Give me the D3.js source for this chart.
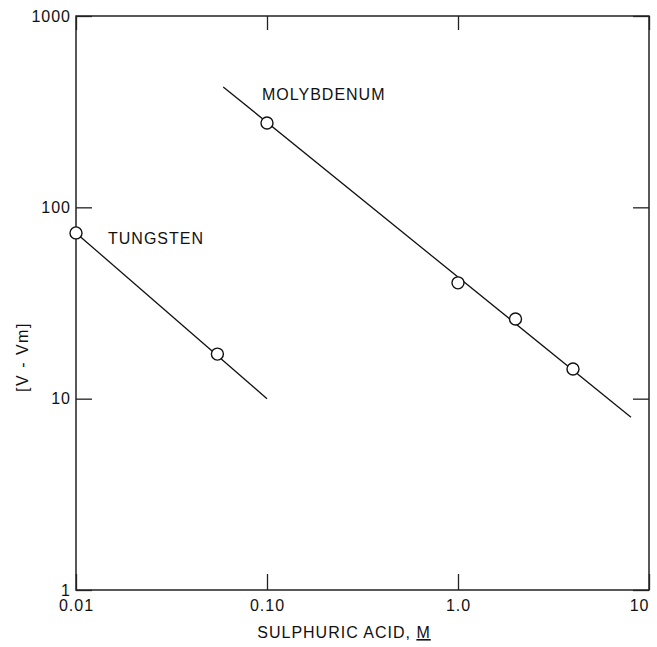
<!DOCTYPE html>
<html>
<head>
<meta charset="utf-8">
<script src="https://cdn.jsdelivr.net/npm/d3@7"></script>
<style>
  body { margin: 0; background: #fff; }
  svg { display: block; font-family: "Liberation Sans", "DejaVu Sans", sans-serif; }
  .lbl { fill: #111; font-size: 16px; letter-spacing: 1px; }
</style>
</head>
<body>
<svg id="chart" width="657" height="647"></svg>
<script>
// values
const xTicks = [0.01, 0.1, 1, 10];
const xTickLabels = ["0.01", "0.10", "1.0", "10"];
const yTicks = [1, 10, 100, 1000];
const yTickLabels = ["1", "10", "100", "1000"];

const tungstenX = [0.01, 0.055];
const tungstenY = [73.5, 17.1];
const tungstenFitX = [0.01, 0.1];
const tungstenFitY = [73.5, 10];

const molyX = [0.1, 1.0, 2.0, 4.0];
const molyY = [276, 40.3, 26.1, 14.3];
const molyFitX = [0.059, 8.05];
const molyFitY = [426, 8.0];

const svg = d3.select('#chart');
const plotL = 76, plotR = 649, plotT = 16, plotB = 590;

const x = d3.scaleLog().domain([0.01, 10]).range([plotL, plotR]);
const y = d3.scaleLog().domain([1, 1000]).range([plotB, plotT]);

// frame
svg.append('rect')
  .attr('x', plotL).attr('y', plotT)
  .attr('width', plotR - plotL).attr('height', plotB - plotT)
  .attr('fill', 'none').attr('stroke', '#222').attr('stroke-width', 1.5);

function styleAxis(g) {
  g.select('.domain').remove();
  g.selectAll('line').attr('stroke', '#222').attr('stroke-width', 1.3);
  g.selectAll('text').attr('fill', '#111').attr('font-size', 16)
    .attr('letter-spacing', 1)
    .attr('font-family', '"Liberation Sans", "DejaVu Sans", sans-serif');
}

const xAxisG = svg.append('g')
  .attr('transform', `translate(0,${plotB})`)
  .call(d3.axisBottom(x).tickValues(xTicks).tickSize(-16).tickPadding(10)
    .tickFormat((d, i) => xTickLabels[i]))
  .call(styleAxis);
// last label sits flush with the right edge, as in the original
xAxisG.selectAll('.tick text')
  .filter(d => d === 10)
  .attr('text-anchor', 'end')
  .attr('dx', 0);

svg.append('g')
  .attr('transform', `translate(0,${plotT})`)
  .call(d3.axisTop(x).tickValues(xTicks).tickSize(-14).tickFormat(''))
  .call(styleAxis);

svg.append('g')
  .attr('transform', `translate(${plotL},0)`)
  .call(d3.axisLeft(y).tickValues(yTicks).tickSize(-16).tickPadding(5)
    .tickFormat((d, i) => yTickLabels[i]))
  .call(styleAxis);

svg.append('g')
  .attr('transform', `translate(${plotR},0)`)
  .call(d3.axisRight(y).tickValues(yTicks).tickSize(-16).tickFormat(''))
  .call(styleAxis);

// fitted lines
const line = d3.line().x(d => x(d[0])).y(d => y(d[1]));
[[tungstenFitX, tungstenFitY], [molyFitX, molyFitY]].forEach(([xs, ys]) => {
  svg.append('path')
    .datum(xs.map((v, i) => [v, ys[i]]))
    .attr('d', line)
    .attr('fill', 'none').attr('stroke', '#111').attr('stroke-width', 1.3);
});

// data points
const pts = tungstenX.map((v, i) => [v, tungstenY[i]])
  .concat(molyX.map((v, i) => [v, molyY[i]]));
svg.append('g').selectAll('circle')
  .data(pts)
  .enter()
  .append('circle')
  .attr('cx', d => x(d[0]))
  .attr('cy', d => y(d[1]))
  .attr('r', 6)
  .attr('fill', '#fff')
  .attr('stroke', '#111')
  .attr('stroke-width', 1.4);

// labels
svg.append('text').attr('class', 'lbl').attr('x', 108).attr('y', 244).text('TUNGSTEN');
svg.append('text').attr('class', 'lbl').attr('x', 262).attr('y', 100).text('MOLYBDENUM');

svg.append('text')
  .attr('class', 'lbl')
  .attr('transform', 'translate(28,357) rotate(-90)')
  .attr('text-anchor', 'middle')
  .style('letter-spacing', '1.5px')
  .text('[V - Vm]');

const xt = svg.append('text')
  .attr('class', 'lbl')
  .attr('x', 344).attr('y', 638)
  .attr('text-anchor', 'middle');
xt.append('tspan').text('SULPHURIC ACID, ');
xt.append('tspan').attr('text-decoration', 'underline').text('M');
</script>
</body>
</html>
